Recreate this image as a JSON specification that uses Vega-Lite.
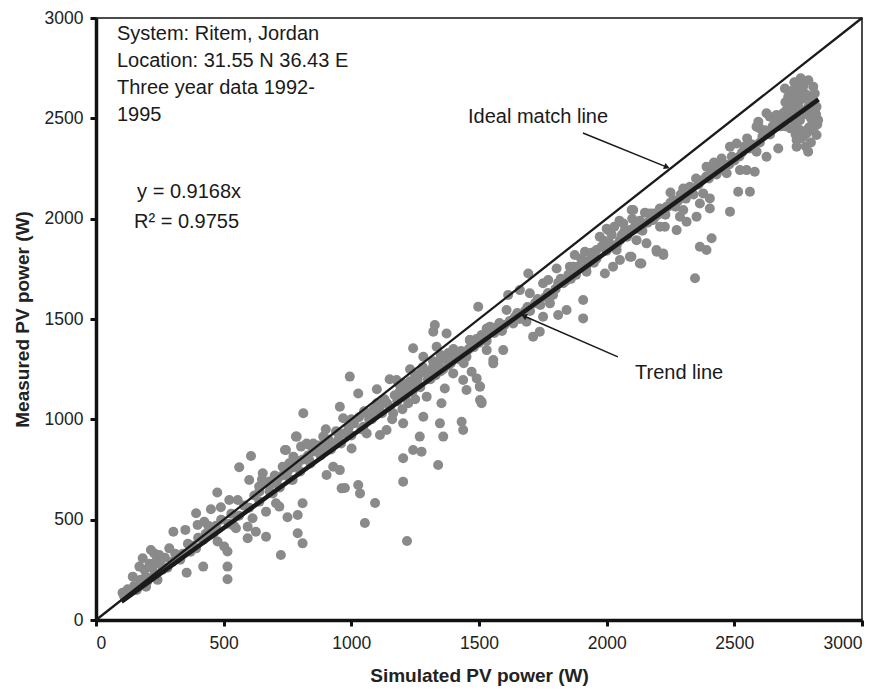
{
  "$schema": "https://vega.github.io/schema/vega-lite/v6.json",
  "width": 766,
  "height": 602,
  "autosize": "none",
  "padding": {"left": 96, "top": 18, "right": 23, "bottom": 74},
  "background": "white",
  "config": {
    "view": {"stroke": "#111", "strokeWidth": 1.5},
    "font": "Liberation Sans",
    "axis": {
      "grid": false,
      "domainColor": "#111",
      "domainWidth": 3.5,
      "tickColor": "#111",
      "tickWidth": 3,
      "tickSize": 6,
      "labelFont": "Liberation Sans",
      "labelFontSize": 17.5,
      "labelColor": "#222",
      "titleFont": "Liberation Sans",
      "titleFontSize": 19,
      "titleFontWeight": "bold",
      "titleColor": "#222"
    }
  },
  "datasets": {
    "pts": [
      {"x":104,"y":136},{"x":124,"y":153},{"x":144,"y":216},{"x":170,"y":266},{"x":183,"y":308},{"x":215,"y":349},{"x":228,"y":332},{"x":248,"y":324},{"x":235,"y":291},{"x":196,"y":216},{"x":196,"y":166},{"x":241,"y":200},{"x":287,"y":357},{"x":303,"y":440},{"x":350,"y":449},{"x":355,"y":236},{"x":392,"y":532},{"x":398,"y":474},{"x":424,"y":490},{"x":420,"y":266},{"x":392,"y":357},{"x":450,"y":552},{"x":475,"y":635},{"x":489,"y":562},{"x":515,"y":266},{"x":515,"y":203},{"x":522,"y":598},{"x":555,"y":598},{"x":548,"y":457},{"x":476,"y":391},{"x":502,"y":366},{"x":515,"y":341},{"x":561,"y":761},{"x":594,"y":465},{"x":594,"y":407},{"x":607,"y":817},{"x":600,"y":698},{"x":613,"y":507},{"x":626,"y":440},{"x":639,"y":665},{"x":653,"y":731},{"x":666,"y":415},{"x":666,"y":540},{"x":679,"y":690},{"x":692,"y":631},{"x":705,"y":582},{"x":718,"y":565},{"x":724,"y":324},{"x":744,"y":847},{"x":731,"y":764},{"x":757,"y":781},{"x":750,"y":512},{"x":770,"y":698},{"x":783,"y":914},{"x":790,"y":523},{"x":790,"y":432},{"x":809,"y":382},{"x":809,"y":582},{"x":803,"y":864},{"x":835,"y":872},{"x":835,"y":797},
      {"x":812,"y":1030},{"x":786,"y":914},{"x":740,"y":847},{"x":773,"y":814},{"x":825,"y":880},{"x":851,"y":880},{"x":890,"y":914},{"x":903,"y":723},{"x":929,"y":764},{"x":955,"y":747},{"x":962,"y":656},{"x":955,"y":1063},{"x":994,"y":1213},{"x":1027,"y":1129},{"x":968,"y":1005},{"x":1001,"y":855},{"x":1027,"y":673},{"x":1034,"y":631},{"x":1047,"y":963},{"x":1060,"y":930},{"x":1086,"y":1046},{"x":1112,"y":922},{"x":1138,"y":947},{"x":1164,"y":1030},{"x":1177,"y":1196},{"x":1190,"y":1171},{"x":1203,"y":980},{"x":1203,"y":806},{"x":1203,"y":689},{"x":1216,"y":1129},{"x":1223,"y":1080},{"x":1242,"y":1354},{"x":1242,"y":847},{"x":1255,"y":1179},{"x":1268,"y":914},{"x":1275,"y":839},{"x":1282,"y":1013},{"x":1282,"y":1312},{"x":1295,"y":1113},{"x":1314,"y":1246},{"x":1321,"y":1437},{"x":1327,"y":1470},{"x":1334,"y":1362},{"x":1340,"y":772},{"x":1347,"y":980},{"x":1353,"y":1080},{"x":1360,"y":914},{"x":1366,"y":1154},{"x":1373,"y":1428},{"x":1386,"y":1296},{"x":1399,"y":1229},{"x":1432,"y":988},{"x":1438,"y":947},{"x":1451,"y":1312},{"x":1464,"y":1395},{"x":1471,"y":1237},{"x":1491,"y":1204},{"x":1497,"y":1561},{"x":1504,"y":1163},{"x":1504,"y":1096},{"x":1510,"y":1080},{"x":1530,"y":1345},{"x":1543,"y":1462},{"x":1556,"y":1296},
      {"x":1399,"y":1312},{"x":1438,"y":1196},{"x":1451,"y":1146},{"x":1503,"y":1163},{"x":1510,"y":1088},{"x":1464,"y":1395},{"x":1530,"y":1453},{"x":1556,"y":1279},{"x":1595,"y":1345},{"x":1608,"y":1545},{"x":1614,"y":1620},{"x":1634,"y":1478},{"x":1660,"y":1644},{"x":1686,"y":1486},{"x":1693,"y":1727},{"x":1699,"y":1628},{"x":1712,"y":1412},{"x":1738,"y":1437},{"x":1751,"y":1511},{"x":1751,"y":1678},{"x":1771,"y":1694},{"x":1778,"y":1578},{"x":1804,"y":1752},{"x":1810,"y":1520},{"x":1843,"y":1545},{"x":1830,"y":1678},{"x":1856,"y":1761},{"x":1875,"y":1819},{"x":1888,"y":1761},{"x":1908,"y":1595},{"x":1908,"y":1503},{"x":1915,"y":1835},{"x":1921,"y":1736},{"x":1960,"y":1844},{"x":1973,"y":1910},{"x":1993,"y":1727},{"x":2006,"y":1943},{"x":2025,"y":1761},{"x":2039,"y":1844},{"x":2052,"y":1893},{"x":2065,"y":1976},{"x":2091,"y":1943},{"x":2097,"y":1810},{"x":2104,"y":2043},{"x":2117,"y":1893},{"x":2136,"y":1777},{"x":2156,"y":1877},{"x":2169,"y":2026},{"x":2195,"y":1844},{"x":2182,"y":1993},{"x":2208,"y":2051},{"x":2221,"y":1827},{"x":2228,"y":1960},
      {"x":2052,"y":1794},{"x":2091,"y":1810},{"x":2130,"y":1777},{"x":2098,"y":2043},{"x":2196,"y":1835},{"x":2222,"y":1819},{"x":2183,"y":2026},{"x":2209,"y":1960},{"x":2235,"y":2060},{"x":2261,"y":2093},{"x":2274,"y":1943},{"x":2287,"y":2010},{"x":2300,"y":2043},{"x":2313,"y":1985},{"x":2326,"y":2159},{"x":2346,"y":1703},{"x":2352,"y":2010},{"x":2365,"y":2076},{"x":2365,"y":1860},{"x":2378,"y":2126},{"x":2391,"y":1844},{"x":2404,"y":2051},{"x":2411,"y":1902},{"x":2404,"y":2101},{"x":2391,"y":2259},{"x":2417,"y":2259},{"x":2443,"y":2276},{"x":2470,"y":2226},{"x":2483,"y":2035},{"x":2483,"y":2359},{"x":2509,"y":2375},{"x":2515,"y":2134},{"x":2522,"y":2242},{"x":2561,"y":2134},{"x":2548,"y":2242},{"x":2580,"y":2234},{"x":2587,"y":2334},{"x":2587,"y":2458},{"x":2594,"y":2483},{"x":2626,"y":2525},{"x":2626,"y":2309},{"x":2639,"y":2508},{"x":2665,"y":2516},{"x":2672,"y":2350},{"x":2691,"y":2525},{"x":2704,"y":2541},{"x":2698,"y":2649},{"x":2711,"y":2608},{"x":2730,"y":2641},{"x":2744,"y":2392},{"x":2744,"y":2359},{"x":2757,"y":2691},{"x":2757,"y":2591},{"x":2757,"y":2491},{"x":2757,"y":2442},{"x":2763,"y":2641},{"x":2783,"y":2541},{"x":2783,"y":2425},{"x":2789,"y":2334},{"x":2809,"y":2658},{"x":2815,"y":2624},{"x":2822,"y":2558},{"x":2828,"y":2491},{"x":2822,"y":2417},{"x":2796,"y":2458},{"x":2730,"y":2591},{"x":2770,"y":2408},
      {"x":1218,"y":394},{"x":1093,"y":583},{"x":1053,"y":483},{"x":975,"y":658},
      {"x":200,"y":190},{"x":230,"y":230},{"x":260,"y":250},{"x":300,"y":290},{"x":330,"y":300},{"x":380,"y":370},{"x":420,"y":400},{"x":460,"y":430},{"x":520,"y":480},{"x":560,"y":520},{"x":600,"y":560},{"x":640,"y":590},{"x":680,"y":640},{"x":720,"y":660},{"x":760,"y":700},{"x":800,"y":740},{"x":840,"y":780},{"x":880,"y":820},{"x":920,"y":850},{"x":960,"y":880},{"x":1000,"y":920},{"x":1040,"y":950},{"x":1080,"y":1000},{"x":1120,"y":1030},{"x":1150,"y":1060},{"x":1180,"y":1090},{"x":1210,"y":1110},{"x":1240,"y":1140},{"x":1270,"y":1160},{"x":1300,"y":1200},{"x":1330,"y":1220},{"x":1360,"y":1250},{"x":1390,"y":1280},{"x":1420,"y":1300},{"x":1450,"y":1330},{"x":1480,"y":1360},{"x":1520,"y":1400},{"x":1560,"y":1430},{"x":1600,"y":1470},{"x":1640,"y":1510},{"x":1680,"y":1540},{"x":1720,"y":1580},{"x":1760,"y":1610},{"x":1800,"y":1650},{"x":1840,"y":1690},{"x":1880,"y":1720},{"x":1920,"y":1760},{"x":1960,"y":1800},{"x":2000,"y":1840},{"x":2040,"y":1870},{"x":2080,"y":1910},{"x":2120,"y":1950},{"x":2160,"y":1980},{"x":2200,"y":2020},{"x":2240,"y":2060},{"x":2280,"y":2090},{"x":2320,"y":2130},{"x":2360,"y":2170},{"x":2400,"y":2200},{"x":2440,"y":2240},{"x":2480,"y":2270},{"x":2520,"y":2310},{"x":2560,"y":2350},{"x":2600,"y":2380},{"x":2640,"y":2420},{"x":2680,"y":2460},{"x":2720,"y":2500},{"x":2760,"y":2530},{"x":2790,"y":2560},{"x":2810,"y":2580},
      {"x":1100,"y":1150},{"x":1150,"y":1200},{"x":1200,"y":1180},{"x":1250,"y":1220},{"x":1230,"y":1250},{"x":1280,"y":1260},{"x":1320,"y":1290},{"x":1350,"y":1320},{"x":1380,"y":1330},{"x":1250,"y":1100},{"x":1200,"y":1050},{"x":1160,"y":1000},{"x":1100,"y":1080},{"x":1050,"y":1040},{"x":1000,"y":1000},{"x":950,"y":900},{"x":900,"y":880},{"x":850,"y":840},{"x":780,"y":800},{"x":700,"y":720},{"x":650,"y":700},{"x":900,"y":950},{"x":2000,"y":1950},{"x":2050,"y":1990},{"x":2100,"y":2000},{"x":2150,"y":2030},{"x":2250,"y":2130},{"x":2300,"y":2150},{"x":2350,"y":2200},{"x":2420,"y":2280},{"x":2450,"y":2300},{"x":2550,"y":2400},{"x":2600,"y":2450},{"x":2700,"y":2580},{"x":2720,"y":2620},{"x":2750,"y":2650},{"x":2770,"y":2600},{"x":2780,"y":2520},{"x":2740,"y":2470},{"x":2760,"y":2400},{"x":2790,"y":2450},{"x":2800,"y":2500},{"x":2820,"y":2520},{"x":2810,"y":2440},{"x":2750,"y":2560},{"x":2735,"y":2680},{"x":2760,"y":2700},{"x":2780,"y":2620},
      {"x":110,"y":120},{"x":130,"y":140},{"x":150,"y":170},{"x":160,"y":150},{"x":175,"y":200},{"x":190,"y":250},{"x":210,"y":280},{"x":220,"y":260},{"x":250,"y":280},{"x":270,"y":310},{"x":280,"y":260},{"x":310,"y":330},{"x":340,"y":330},{"x":360,"y":380},{"x":370,"y":340},{"x":400,"y":410},{"x":430,"y":430},{"x":440,"y":470},{"x":470,"y":470},{"x":490,"y":500},{"x":530,"y":530},{"x":540,"y":470},{"x":580,"y":570},{"x":620,"y":620},
      {"x":640,"y":640},{"x":660,"y":680},{"x":690,"y":680},{"x":710,"y":700},{"x":730,"y":720},{"x":750,"y":740},{"x":770,"y":760},{"x":790,"y":780},{"x":810,"y":800},{"x":830,"y":820},{"x":860,"y":840},{"x":870,"y":870},{"x":890,"y":850},{"x":910,"y":900},{"x":930,"y":880},{"x":940,"y":940},{"x":970,"y":930},{"x":990,"y":960},{"x":1010,"y":980},{"x":1030,"y":1010},{"x":1060,"y":1030},{"x":1070,"y":1000},{"x":1090,"y":1040},
      {"x":1110,"y":1060},{"x":1130,"y":1100},{"x":1140,"y":1080},{"x":1170,"y":1120},{"x":1190,"y":1140},{"x":1200,"y":1120},{"x":1220,"y":1160},{"x":1230,"y":1190},{"x":1260,"y":1200},{"x":1270,"y":1230},{"x":1290,"y":1240},{"x":1310,"y":1200},{"x":1320,"y":1260},{"x":1340,"y":1280},{"x":1350,"y":1240},{"x":1370,"y":1300},{"x":1380,"y":1270},{"x":1400,"y":1350},{"x":1410,"y":1310},{"x":1430,"y":1340},{"x":1440,"y":1280},{"x":1460,"y":1350},{"x":1470,"y":1380},{"x":1490,"y":1400},{"x":1500,"y":1380},{"x":1510,"y":1420},{"x":1530,"y":1390},{"x":1540,"y":1440},{"x":1570,"y":1460},{"x":1580,"y":1480},{"x":1590,"y":1440},
      {"x":1620,"y":1490},{"x":1650,"y":1530},{"x":1660,"y":1500},{"x":1690,"y":1560},{"x":1700,"y":1540},{"x":1730,"y":1600},{"x":1740,"y":1570},{"x":1770,"y":1630},{"x":1790,"y":1620},{"x":1810,"y":1680},{"x":1820,"y":1700},{"x":1850,"y":1720},{"x":1860,"y":1700},{"x":1870,"y":1760},{"x":1890,"y":1750},{"x":1900,"y":1800},{"x":1930,"y":1790},{"x":1940,"y":1830},{"x":1950,"y":1780},{"x":1980,"y":1860},{"x":1990,"y":1890},{"x":2010,"y":1880},{"x":2020,"y":1920},{"x":2030,"y":1960},{"x":2060,"y":1920},{"x":2070,"y":1940},{"x":2110,"y":1960},{"x":2130,"y":1990},{"x":2140,"y":1940},{"x":2170,"y":1990},{"x":2190,"y":2010},{"x":2210,"y":2040},{"x":2230,"y":2020},{"x":2250,"y":2080},{"x":2270,"y":2060},{"x":2290,"y":2120},
      {"x":2310,"y":2100},{"x":2330,"y":2150},{"x":2340,"y":2120},{"x":2370,"y":2190},{"x":2390,"y":2210},{"x":2410,"y":2230},{"x":2430,"y":2220},{"x":2460,"y":2270},{"x":2490,"y":2310},{"x":2500,"y":2290},{"x":2530,"y":2330},{"x":2540,"y":2360},{"x":2570,"y":2370},{"x":2610,"y":2410},{"x":2620,"y":2440},{"x":2650,"y":2460},{"x":2660,"y":2490},{"x":2690,"y":2490},{"x":2700,"y":2460},{"x":2710,"y":2530},{"x":2725,"y":2560},{"x":2740,"y":2540},{"x":2745,"y":2610},{"x":2770,"y":2660},{"x":2790,"y":2690},{"x":2800,"y":2600},{"x":2815,"y":2540},{"x":2825,"y":2470},{"x":2800,"y":2380},{"x":2780,"y":2360},{"x":2740,"y":2420},{"x":2720,"y":2450}
    ],
    "notes": [
      {"x":82,"y":2888,"t":"System: Ritem, Jordan"},
      {"x":82,"y":2754,"t":"Location: 31.55 N  36.43 E"},
      {"x":82,"y":2621,"t":"Three year data 1992-"},
      {"x":82,"y":2488,"t":"1995"},
      {"x":161,"y":2103,"t":"y = 0.9168x"},
      {"x":149,"y":1953,"t":"R² = 0.9755"},
      {"x":1457,"y":2475,"t":"Ideal match line"},
      {"x":2111,"y":1201,"t":"Trend line"}
    ]
  },
  "layer": [
    {
      "data": {"name": "pts"},
      "mark": {"type": "circle", "size": 100, "color": "#8a8a8a", "opacity": 1},
      "encoding": {
        "x": {"field": "x", "type": "quantitative", "scale": {"domain": [0, 3000], "nice": false},
              "axis": {"title": "Simulated PV power (W)", "values": [0,500,1000,1500,2000,2500,3000], "format": "d", "labelPadding": 8, "titlePadding": 15}},
        "y": {"field": "y", "type": "quantitative", "scale": {"domain": [0, 3000], "nice": false},
              "axis": {"title": "Measured PV power (W)", "values": [0,500,1000,1500,2000,2500,3000], "format": "d", "labelPadding": 7, "titlePadding": 12}}
      }
    },
    {
      "data": {"values": [{"x": 0, "y": 0, "x2": 3000, "y2": 3000}]},
      "mark": {"type": "rule", "color": "#1a1a1a", "strokeWidth": 2.3},
      "encoding": {
        "x": {"field": "x", "type": "quantitative"},
        "y": {"field": "y", "type": "quantitative"},
        "x2": {"field": "x2"},
        "y2": {"field": "y2"}
      }
    },
    {
      "data": {"values": [{"x": 100, "y": 91.7, "x2": 2830, "y2": 2594.5}]},
      "mark": {"type": "rule", "color": "#1a1a1a", "strokeWidth": 4.5},
      "encoding": {
        "x": {"field": "x", "type": "quantitative"},
        "y": {"field": "y", "type": "quantitative"},
        "x2": {"field": "x2"},
        "y2": {"field": "y2"}
      }
    },
    {
      "data": {"values": [{"x": 1907, "y": 2427, "x2": 2236, "y2": 2257}, {"x": 2044, "y": 1311, "x2": 1676, "y2": 1515}]},
      "mark": {"type": "rule", "color": "#1a1a1a", "strokeWidth": 1.5},
      "encoding": {
        "x": {"field": "x", "type": "quantitative"},
        "y": {"field": "y", "type": "quantitative"},
        "x2": {"field": "x2"},
        "y2": {"field": "y2"}
      }
    },
    {
      "data": {"values": [{"x": 2236, "y": 2257}]},
      "mark": {"type": "point", "shape": "triangle-up", "filled": true, "color": "#1a1a1a", "size": 45, "angle": 112, "opacity": 1},
      "encoding": {
        "x": {"field": "x", "type": "quantitative"},
        "y": {"field": "y", "type": "quantitative"}
      }
    },
    {
      "data": {"values": [{"x": 1676, "y": 1515}]},
      "mark": {"type": "point", "shape": "triangle-up", "filled": true, "color": "#1a1a1a", "size": 45, "angle": 294, "opacity": 1},
      "encoding": {
        "x": {"field": "x", "type": "quantitative"},
        "y": {"field": "y", "type": "quantitative"}
      }
    },
    {
      "data": {"name": "notes"},
      "mark": {"type": "text", "align": "left", "baseline": "alphabetic", "fontSize": 20, "font": "Liberation Sans", "color": "#1a1a1a"},
      "encoding": {
        "x": {"field": "x", "type": "quantitative"},
        "y": {"field": "y", "type": "quantitative"},
        "text": {"field": "t"}
      }
    }
  ]
}
